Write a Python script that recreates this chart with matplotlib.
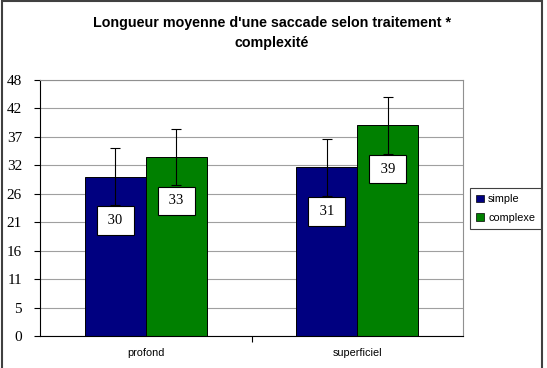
import numpy as np
import matplotlib
matplotlib.use("Agg")
import matplotlib.pyplot as plt
from matplotlib.patches import Rectangle, Patch

# data
categories = ["profond", "superficiel"]
series = ["simple", "complexe"]
simple_vals = [29.9, 31.6]
complexe_vals = [33.6, 39.5]
simple_err = [5.4, 5.4]
complexe_err = [5.3, 5.3]
simple_labels = ["30", "31"]
complexe_labels = ["33", "39"]
ytick_vals = np.linspace(0, 48, 10)
ytick_labels = ["0", "5", "11", "16", "21", "26", "32", "37", "42", "48"]
colors = ["#000080", "#008000"]

W, H = 547, 368
fig = plt.figure(figsize=(W / 100, H / 100), dpi=100)
fig.patch.set_facecolor("white")

# outer chart border
fig.add_artist(Rectangle((2 / W, -0.02), 540 / W, 1.0 - 1 / H + 0.02,
                         transform=fig.transFigure, fill=False,
                         edgecolor="#404040", linewidth=1.5))

ax = fig.add_axes([40 / W, 1 - 336 / H, 423 / W, 256 / H])
x = np.arange(len(categories))
bw = 0.288

vals = [simple_vals, complexe_vals]
errs = [simple_err, complexe_err]
labs = [simple_labels, complexe_labels]
offsets = [-bw / 2, bw / 2]
for k in range(2):
    xs = x + offsets[k]
    ax.bar(xs, vals[k], width=bw, color=colors[k], edgecolor="black",
           linewidth=0.7, zorder=2, label=series[k])
    ax.errorbar(xs, vals[k], yerr=errs[k], fmt="none", ecolor="black",
                elinewidth=0.8, capsize=3.5, capthick=0.8, zorder=3)
    for xi, v, lab in zip(xs, vals[k], labs[k]):
        ax.annotate(f" {lab} ", (xi, v), xytext=(0, -44),
                    textcoords="offset pixels",
                    ha="center", va="center", fontsize=10.5,
                    family="Liberation Serif", zorder=5,
                    bbox=dict(boxstyle="square,pad=0.52", facecolor="white",
                              edgecolor="black", linewidth=0.8))

ax.set_xlim(-0.5, 1.5)
ax.set_ylim(0, 48)
ax.set_yticks(ytick_vals)
ax.set_yticklabels(ytick_labels, family="Liberation Serif", fontsize=11)
ax.set_xticks(x)
ax.set_xticklabels(categories, family="Liberation Sans", fontsize=7.8)
ax.set_xticks([0.5], minor=True)
ax.tick_params(axis="x", which="major", length=0, pad=9)
ax.tick_params(axis="x", which="minor", length=4, width=0.8, direction="out")
ax.tick_params(axis="y", length=4, width=0.8, pad=9, direction="out")
ax.grid(axis="y", color="#a0a0a0", linewidth=0.8, zorder=0)
ax.set_axisbelow(True)
for s in ["top", "right"]:
    ax.spines[s].set_color("#909090")
    ax.spines[s].set_linewidth(0.8)
for s in ["left", "bottom"]:
    ax.spines[s].set_color("black")
    ax.spines[s].set_linewidth(0.8)

fig.text(272 / W, 1 - 33 / H,
         "Longueur moyenne d'une saccade selon traitement *\ncomplexité",
         ha="center", va="center", fontsize=10.3, fontweight="bold",
         family="Liberation Sans", linespacing=1.5)

handles = [Patch(facecolor=c, edgecolor="black", linewidth=0.5) for c in colors]
leg = fig.legend(handles, series, loc="center right",
                 bbox_to_anchor=(541 / W, 1 - 208.5 / H),
                 prop={"family": "Liberation Sans", "size": 7.8},
                 handlelength=0.7, handleheight=0.7, handletextpad=0.4,
                 borderpad=0.55, labelspacing=0.75, fancybox=False,
                 borderaxespad=0,
                 framealpha=1, edgecolor="#404040")
leg.get_frame().set_linewidth(0.8)

fig.savefig("out.png", dpi=100)
